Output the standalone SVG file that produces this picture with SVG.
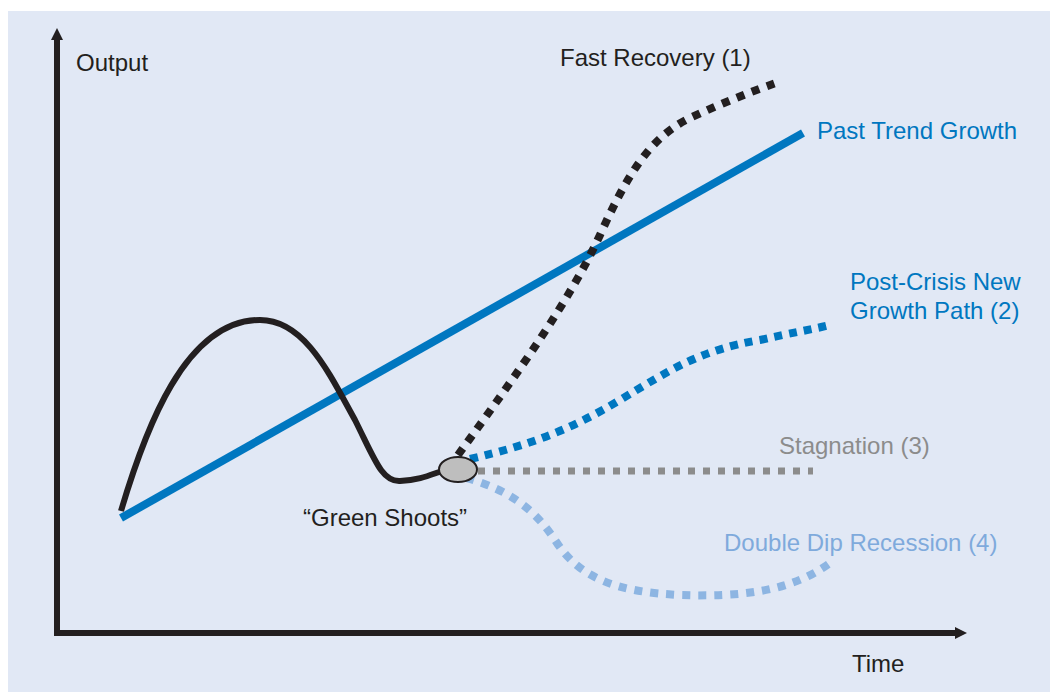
<svg xmlns="http://www.w3.org/2000/svg" width="1050" height="692" viewBox="0 0 1050 692">
<style>
text{font-family:"Liberation Sans",Arial,sans-serif;font-size:24px}
.dark{fill:#231F20}
.blue{fill:#0077C0}
.gray{fill:#8C8C8C}
.lblue{fill:#7FAADC}
.axis{stroke:#231F20;stroke-width:6;fill:none}
</style>
<defs>
<marker id="ah" viewBox="0 0 10 10" refX="0" refY="5" markerWidth="13" markerHeight="12" markerUnits="userSpaceOnUse" orient="auto">
<path d="M0,0 L10,5 L0,10 Z" fill="#231F20"/>
</marker>
</defs>
<rect x="8" y="11" width="1042" height="681" fill="#E1E8F5"/>
<g id="axes">
<path class="axis" d="M57,633 L57,40" marker-end="url(#ah)"/>
<path class="axis" d="M54,633 L955,633" marker-end="url(#ah)"/>
</g>
<g id="connectors">
<path id="trend" d="M121,518 L803,133" stroke="#0077C0" stroke-width="8" fill="none"/>
<path id="crisis" d="M121,511 C145,430 185,320 260,320 C305,320 330,375 355,420 C375,460 382,482 400,481 C420,480 430,475 442,471" stroke="#231F20" stroke-width="6" fill="none"/>
<path id="fast" d="M458,455 C520,370 570,300 600,235 C625,180 648,138 690,118 C720,104 750,92 776,83" stroke="#231F20" stroke-width="8" stroke-dasharray="8 8" fill="none"/>
<path id="newpath" d="M470,459 C530,445 570,430 620,400 C670,370 700,350 760,340 C790,333 810,330 830,325" stroke="#0077C0" stroke-width="8" stroke-dasharray="8 7" fill="none"/>
<path id="stag" d="M478,471 L813,471" stroke="#8C8C8C" stroke-width="7" stroke-dasharray="7 8" fill="none"/>
<path id="dip" d="M466,478 C510,490 535,510 555,540 C580,580 620,592 680,595 C740,597 790,592 830,563" stroke="#8DB5E2" stroke-width="8" stroke-dasharray="8 8" fill="none"/>
</g>
<g id="green-shoots">
<ellipse cx="458" cy="469.5" rx="19" ry="12.5" fill="#BEBEBE" stroke="#231F20" stroke-width="2"/>
<text class="dark" x="303" y="526">“Green Shoots”</text>
</g>
<g id="labels">
<text class="dark" x="76" y="71">Output</text>
<text class="dark" x="852" y="672">Time</text>
<text class="dark" x="560" y="66">Fast Recovery (1)</text>
<text class="blue" x="817" y="139">Past Trend Growth</text>
<text class="blue" x="850" y="290">Post-Crisis New</text>
<text class="blue" x="850" y="319">Growth Path (2)</text>
<text class="gray" x="779" y="454">Stagnation (3)</text>
<text class="lblue" x="724" y="551">Double Dip Recession (4)</text>
</g>
</svg>
